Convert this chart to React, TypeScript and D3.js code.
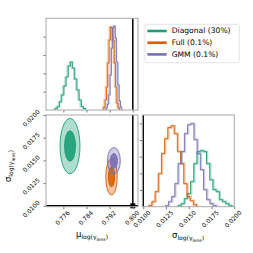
import React, { useEffect, useRef } from "react";
import * as d3 from "d3";

// method names + colours
const methods = ["Diagonal (30%)", "Full (0.1%)", "GMM (0.1%)"];
const colors = ["#1b9e77", "#d95f02", "#7570b3"];

// marginal histograms of mu (bin start, bin width, heights as fraction of panel)
const muStart = [0.7732, 0.79, 0.7908];
const muStep = [0.00075, 0.00045, 0.00045];
const muHist = [
  [0.016, 0.036, 0.09, 0.164, 0.262, 0.36, 0.48, 0.523, 0.458, 0.338, 0.218, 0.109, 0.038, 0.016],
  [0.033, 0.109, 0.251, 0.513, 0.763, 0.905, 0.894, 0.763, 0.513, 0.251, 0.076, 0.022],
  [0.022, 0.065, 0.164, 0.382, 0.676, 0.894, 0.916, 0.785, 0.523, 0.273, 0.098, 0.033],
];

// marginal histograms of sigma
const sigStart = [0.0138, 0.0106, 0.01242];
const sigStep = [0.00035, 0.00035, 0.00035];
const sigHist = [
  [0.012, 0.036, 0.096, 0.156, 0.3, 0.516, 0.66, 0.672, 0.66, 0.516, 0.323, 0.204, 0.18, 0.084, 0.06, 0.036, 0.012],
  [0.012, 0.06, 0.18, 0.396, 0.636, 0.816, 0.948, 0.971, 0.876, 0.66, 0.516, 0.276, 0.12, 0.072, 0.024],
  [0.012, 0.06, 0.12, 0.276, 0.516, 0.66, 0.876, 0.983, 0.996, 0.804, 0.636, 0.443, 0.204, 0.084, 0.036, 0.012],
];

// 2d posterior summary (mean / sd) for the contours
const muMean = [0.7783, 0.79264, 0.79346];
const muSd = [0.00172, 0.001, 0.00111];
const sigMean = [0.01658, 0.01319, 0.01496];
const sigSd = [0.00152, 0.001, 0.00073];
const levels = [2, 1.1];

const truth = { mu: 0.8, sigma: 0.01 };
const muTicks = [0.776, 0.784, 0.792, 0.8];
const sigTicks = [0.01, 0.0125, 0.015, 0.0175, 0.02];

const W = 253;
const H = 253;

const App: React.FC = () => {
  const ref = useRef<SVGSVGElement | null>(null);

  useEffect(() => {
    if (!ref.current) return;
    const svg = d3.select(ref.current);
    svg.selectAll("*").remove();

    const font = "DejaVu Sans, sans-serif";
    const frameCol = "#a8a8a8";

    // panel boxes
    const left = 46, mid = 138, right0 = 142.3, right1 = 234.3;
    const top0 = 18.3, top1 = 110, bot0 = 115, bot1 = 206.7;

    const xMu = d3.scaleLinear().domain([0.77, 0.8018]).range([left, mid]);
    const ySig = d3.scaleLinear().domain([0.0099, 0.02]).range([bot1, bot0]);
    const xSig = d3.scaleLinear().domain([0.0099, 0.02]).range([right0, right1]);
    const yTop = d3.scaleLinear().domain([0, 1]).range([top1, top0]);
    const yRight = d3.scaleLinear().domain([0, 1.1]).range([bot1, bot0]);

    const stepPts = (start: number, step: number, vals: number[]) => {
      const pts: [number, number][] = [[start, 0]];
      vals.forEach((v, i) => {
        pts.push([start + i * step, v]);
        pts.push([start + (i + 1) * step, v]);
      });
      pts.push([start + vals.length * step, 0]);
      return pts;
    };

    const frame = (x0: number, x1: number, y0: number, y1: number) => {
      svg.append("rect")
        .attr("x", x0).attr("y", y0)
        .attr("width", x1 - x0).attr("height", y1 - y0)
        .attr("fill", "none").attr("stroke", frameCol).attr("stroke-width", 1);
    };

    // ---- top-left: mu histogram
    const lineTop = d3.line<[number, number]>().x((d) => xMu(d[0])).y((d) => yTop(d[1]));
    const gTop = svg.append("g");
    muHist.forEach((vals, i) => {
      const p = lineTop(stepPts(muStart[i], muStep[i], vals));
      gTop.append("path").attr("d", p).attr("fill", "none")
        .attr("stroke", colors[i]).attr("stroke-opacity", 0.35).attr("stroke-width", 2.2)
        .attr("transform", "translate(-0.7,0)");
      gTop.append("path").attr("d", p).attr("fill", "none")
        .attr("stroke", colors[i]).attr("stroke-width", 0.9);
    });
    gTop.append("line").attr("x1", xMu(truth.mu)).attr("x2", xMu(truth.mu))
      .attr("y1", top0).attr("y2", top1).attr("stroke", "black").attr("stroke-width", 1.5);
    frame(left, mid, top0, top1);
    gTop.append("g").attr("transform", `translate(${left},0)`)
      .call(d3.axisLeft(yTop).tickValues([0.2, 0.4, 0.6, 0.8]).tickSize(2.5).tickFormat(() => ""))
      .call((g) => g.select(".domain").remove())
      .call((g) => g.selectAll("line").attr("stroke", "#777"));
    gTop.append("g").attr("transform", `translate(0,${top1})`)
      .call(d3.axisBottom(xMu).tickValues(muTicks).tickSize(2.5).tickFormat(() => ""))
      .call((g) => g.select(".domain").remove())
      .call((g) => g.selectAll("line").attr("stroke", "#777"));

    // ---- bottom-left: 2d contours
    const gMid = svg.append("g");
    [0, 1, 2].forEach((i) => {
      levels.forEach((k, j) => {
        const cx = xMu(muMean[i]);
        const cy = ySig(sigMean[i]);
        const rx = xMu(muMean[i] + k * muSd[i]) - cx;
        const ry = cy - ySig(sigMean[i] + k * sigSd[i]);
        gMid.append("ellipse")
          .attr("cx", cx).attr("cy", cy).attr("rx", rx).attr("ry", ry)
          .attr("fill", colors[i]).attr("fill-opacity", j === 0 ? 0.35 : 0.9)
          .attr("stroke", colors[i]).attr("stroke-width", 0.9);
      });
    });
    gMid.append("line").attr("x1", left).attr("x2", mid)
      .attr("y1", ySig(truth.sigma)).attr("y2", ySig(truth.sigma))
      .attr("stroke", "black").attr("stroke-width", 1.5);
    gMid.append("line").attr("x1", xMu(truth.mu)).attr("x2", xMu(truth.mu))
      .attr("y1", bot0).attr("y2", bot1).attr("stroke", "black").attr("stroke-width", 1.5);
    gMid.append("rect").attr("x", xMu(truth.mu) - 2.5).attr("y", ySig(truth.sigma) - 2.5)
      .attr("width", 5).attr("height", 5).attr("fill", "black");
    frame(left, mid, bot0, bot1);
    gMid.append("g").attr("transform", `translate(0,${bot1})`)
      .call(d3.axisBottom(xMu).tickValues(muTicks).tickSize(2.5).tickFormat(() => ""))
      .call((g) => g.select(".domain").remove())
      .call((g) => g.selectAll("line").attr("stroke", "#777"));
    gMid.append("g").attr("transform", `translate(${left},0)`)
      .call(d3.axisLeft(ySig).tickValues(sigTicks).tickSize(2.5).tickFormat(() => ""))
      .call((g) => g.select(".domain").remove())
      .call((g) => g.selectAll("line").attr("stroke", "#777"));

    muTicks.forEach((t) => {
      const x = xMu(t) - 1, y = bot1 + 11;
      gMid.append("text").attr("x", x).attr("y", y)
        .attr("transform", `rotate(-45,${x},${y})`)
        .attr("text-anchor", "middle").attr("dominant-baseline", "central")
        .attr("font-family", font).attr("font-size", 6).text(t.toFixed(3));
    });
    sigTicks.forEach((t) => {
      const x = 31, y = ySig(t) + 3;
      gMid.append("text").attr("x", x).attr("y", y)
        .attr("transform", `rotate(-45,${x},${y})`)
        .attr("text-anchor", "middle").attr("dominant-baseline", "central")
        .attr("font-family", font).attr("font-size", 6).text(t.toFixed(4));
    });

    // ---- bottom-right: sigma histogram
    const lineRight = d3.line<[number, number]>().x((d) => xSig(d[0])).y((d) => yRight(d[1]));
    const gRight = svg.append("g");
    sigHist.forEach((vals, i) => {
      const p = lineRight(stepPts(sigStart[i], sigStep[i], vals));
      gRight.append("path").attr("d", p).attr("fill", "none")
        .attr("stroke", colors[i]).attr("stroke-opacity", 0.35).attr("stroke-width", 2.2)
        .attr("transform", "translate(0.7,0)");
      gRight.append("path").attr("d", p).attr("fill", "none")
        .attr("stroke", colors[i]).attr("stroke-width", 0.9);
    });
    gRight.append("line").attr("x1", xSig(truth.sigma)).attr("x2", xSig(truth.sigma))
      .attr("y1", bot0).attr("y2", bot1).attr("stroke", "black").attr("stroke-width", 1.5);
    frame(right0, right1, bot0, bot1);
    gRight.append("g").attr("transform", `translate(${right0},0)`)
      .call(d3.axisLeft(yRight).tickValues([0.2, 0.4, 0.6, 0.8, 1.0]).tickSize(2.5).tickFormat(() => ""))
      .call((g) => g.select(".domain").remove())
      .call((g) => g.selectAll("line").attr("stroke", "#777"));
    gRight.append("g").attr("transform", `translate(0,${bot1})`)
      .call(d3.axisBottom(xSig).tickValues(sigTicks).tickSize(2.5).tickFormat(() => ""))
      .call((g) => g.select(".domain").remove())
      .call((g) => g.selectAll("line").attr("stroke", "#777"));
    sigTicks.forEach((t) => {
      const x = xSig(t) - 1.5, y = bot1 + 12;
      gRight.append("text").attr("x", x).attr("y", y)
        .attr("transform", `rotate(-45,${x},${y})`)
        .attr("text-anchor", "middle").attr("dominant-baseline", "central")
        .attr("font-family", font).attr("font-size", 6).text(t.toFixed(4));
    });

    // ---- axis labels  (mu_log(gamma_lens), sigma_log(gamma_lens))
    const label = (sym: string, x: number, y: number, rot: number) => {
      const t = svg.append("text").attr("x", x).attr("y", y)
        .attr("text-anchor", "middle").attr("font-family", font).attr("font-size", 8.5)
        .attr("transform", `rotate(${rot},${x},${y})`);
      t.append("tspan").text(sym);
      t.append("tspan").attr("font-size", 6).attr("dy", 2).text("log(");
      t.append("tspan").attr("font-size", 6).text("γ");
      t.append("tspan").attr("font-size", 4.5).attr("dy", 1.5).text("lens");
      t.append("tspan").attr("font-size", 6).attr("dy", -1.5).text(")");
    };
    label("μ", 92, 237, 0);
    label("σ", 188, 238, 0);
    label("σ", 11, 166, -90);

    // ---- legend
    const lg = svg.append("g").attr("transform", "translate(145,24.3)");
    lg.append("rect").attr("width", 94.3).attr("height", 38.4).attr("rx", 2)
      .attr("fill", "white").attr("stroke", "#ddd").attr("stroke-width", 0.8);
    methods.forEach((m, i) => {
      const y = 6.7 + i * 11.7;
      lg.append("line").attr("x1", 2.3).attr("x2", 21.7).attr("y1", y).attr("y2", y)
        .attr("stroke", colors[i]).attr("stroke-width", 2.6);
      lg.append("text").attr("x", 26.7).attr("y", y).attr("dominant-baseline", "central")
        .attr("font-family", font).attr("font-size", 7.6).text(m);
    });
  }, []);

  return (
    <svg
      ref={ref}
      width={W}
      height={H}
      style={{ position: "absolute", left: 0, top: 0, background: "white" }}
    />
  );
};

export default App;
